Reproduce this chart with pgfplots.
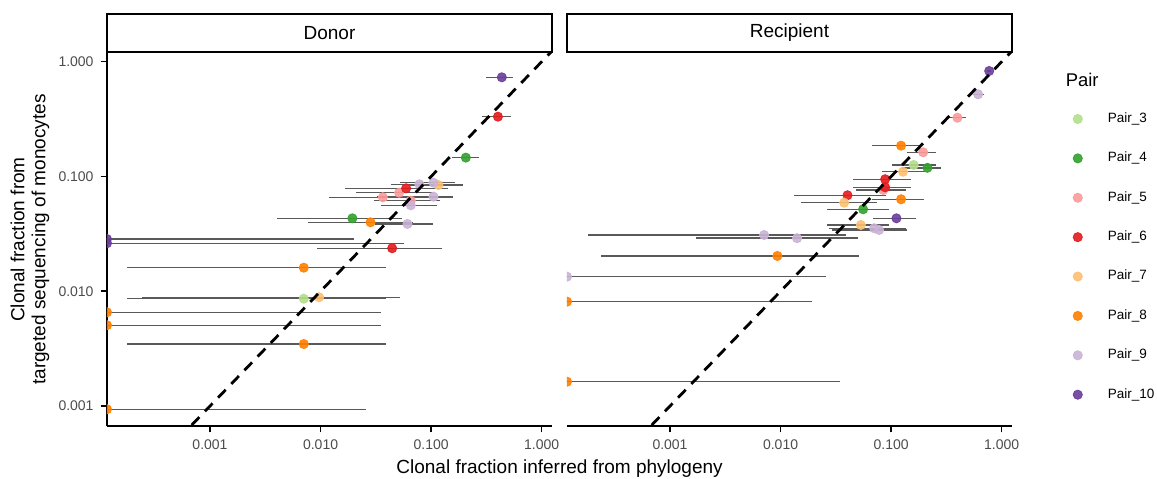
\documentclass[border=0pt]{standalone}
\usepackage{fontspec}
\setmainfont{Liberation Sans}
\usepackage{pgfplots}
\pgfplotsset{compat=1.18}

\definecolor{p3}{HTML}{B2DF8A}
\definecolor{p4}{HTML}{33A02C}
\definecolor{p5}{HTML}{FB9A99}
\definecolor{p6}{HTML}{E31A1C}
\definecolor{p7}{HTML}{FDBF6F}
\definecolor{p8}{HTML}{FF7F00}
\definecolor{p9}{HTML}{CAB2D6}
\definecolor{p10}{HTML}{6A3D9A}

\pgfplotsset{
  ebar/.style={forget plot, draw=black!65, line width=0.7pt},
  pdot/.style={only marks, mark=*, color=#1, mark size=2.3pt,
    mark options={fill=#1, draw=#1, fill opacity=0.9, draw opacity=0.9}},
  dline/.style={forget plot, black, line width=1.4pt, dash pattern=on 5.5pt off 4pt},
}
\tikzset{stripbox/.style={draw, line width=1pt, minimum width=222.5pt, minimum height=19pt,
    anchor=south, inner sep=0pt, font=\fontsize{9.5}{11}\selectfont}}

\begin{document}
\begin{tikzpicture}
\useasboundingbox (-53.5pt,-26pt) rectangle (525pt,213pt);
% Donor
\begin{axis}[
  scale only axis, width=222.5pt, height=186.5pt,
  xmode=log, ymode=log,
  xmin=1.17e-4, xmax=1.24, ymin=6.7e-4, ymax=1.19,
  xtick={0.001,0.01,0.1,1}, xticklabels={0.001,0.010,0.100,1.000},
  ytick={0.001,0.01,0.1,1}, yticklabels={0.001,0.010,0.100,1.000},
  xminorticks=false, yminorticks=false,
  axis x line*=bottom, axis y line*=left,
  axis line style={-, line width=1.1pt},
  tick align=outside, major tick length=3.2pt,
  tick style={line width=0.8pt, black},
  tick label style={font=\fontsize{7}{8}\selectfont, text=black!70},
  clip mode=individual, clip marker paths=true,
  unbounded coords=jump,
]
\addplot[ebar] coordinates {
  (0.315,0.731) (0.552,0.731) (nan,nan)
  (0.288,0.332) (0.526,0.332) (nan,nan)
  (0.154,0.146) (0.273,0.146) (nan,nan)
  (0.0167,0.0789) (0.1426,0.0789) (nan,nan)
  (0.0209,0.0722) (0.1043,0.0722) (nan,nan)
  (0.0119,0.0659) (0.158,0.0659) (nan,nan)
  (0.0435,0.0855) (0.158,0.0855) (nan,nan)
  (0.0646,0.0843) (0.194,0.0843) (nan,nan)
  (0.0524,0.0883) (0.165,0.0883) (nan,nan)
  (0.0323,0.0667) (0.158,0.0667) (nan,nan)
  (0.0305,0.0615) (0.1205,0.0615) (nan,nan)
  (0.0352,0.0561) (0.1127,0.0561) (nan,nan)
  (0.00402,0.0432) (0.0543,0.0432) (nan,nan)
  (0.00776,0.0399) (0.0692,0.0399) (nan,nan)
  (0.0313,0.0386) (0.1047,0.0386) (nan,nan)
  (0.00935,0.0237) (0.125,0.0237) (nan,nan)
  (0.0001,0.0285) (0.0201,0.0285) (nan,nan)
  (0.0001,0.0262) (0.057,0.0262) (nan,nan)
  (0.000179,0.01605) (0.0389,0.01605) (nan,nan)
  (0.000179,0.00862) (0.0389,0.00862) (nan,nan)
  (0.000244,0.00887) (0.0524,0.00887) (nan,nan)
  (0.0001,0.00656) (0.0351,0.00656) (nan,nan)
  (0.0001,0.00506) (0.0351,0.00506) (nan,nan)
  (0.000179,0.00347) (0.0389,0.00347) (nan,nan)
  (0.0001,0.000938) (0.0257,0.000938)
};
\addplot[pdot=p3] coordinates {(0.00705,0.00862)};
\addplot[pdot=p4] coordinates {(0.206,0.146) (0.0194,0.0432)};
\addplot[pdot=p5] coordinates {(0.0513,0.0722) (0.0366,0.0659) (0.0655,0.0615)};
\addplot[pdot=p6] coordinates {(0.402,0.332) (0.0594,0.0789) (0.0444,0.0237)};
\addplot[pdot=p7] coordinates {(0.1164,0.0843) (0.00969,0.00887)};
\addplot[pdot=p8] coordinates {(0.0283,0.0399) (0.00705,0.01605) (1.17e-4,0.00656)
  (1.17e-4,0.00506) (0.00705,0.00347) (1.17e-4,0.000938)};
\addplot[pdot=p9] coordinates {(0.0783,0.0855) (0.105,0.0883) (0.105,0.0667)
  (0.0655,0.0561) (0.0611,0.0386)};
\addplot[pdot=p10] coordinates {(0.436,0.731) (1.17e-4,0.0285) (1.17e-4,0.0262)};
\addplot[dline] coordinates {(0.0001,0.0001) (10,10)};
\node[stripbox] at (rel axis cs:0.5,1) {Donor};
\node[rotate=90, align=center, font=\fontsize{9.5}{10.5}\selectfont]
  at (rel axis cs:-0.173,0.5) {Clonal fraction from\\targeted sequencing of monocytes};
\node[font=\fontsize{9.5}{11}\selectfont] at (rel axis cs:1.017,-0.115)
  {Clonal fraction inferred from phylogeny};
\end{axis}

% Recipient
\begin{axis}[at={(230pt,0)},
  scale only axis, width=222.5pt, height=186.5pt,
  xmode=log, ymode=log,
  xmin=1.17e-4, xmax=1.24, ymin=6.7e-4, ymax=1.19,
  xtick={0.001,0.01,0.1,1}, xticklabels={0.001,0.010,0.100,1.000},
  ytick=\empty, xminorticks=false, yminorticks=false,
  axis x line*=bottom, axis y line=none,
  axis line style={-, line width=1.1pt},
  tick align=outside, major tick length=3.2pt,
  tick style={line width=0.8pt, black},
  tick label style={font=\fontsize{7}{8}\selectfont, text=black!70},
  clip mode=individual, clip marker paths=true,
  unbounded coords=jump,
  legend style={at={(rel axis cs:1.1365,0.852)}, anchor=north west, draw=none,
    fill=none, inner sep=0pt, row sep=9.3pt,
    font=\fontsize{6.75}{8}\selectfont,
    /tikz/every odd column/.append style={column sep=10.7pt}},
  legend cell align=left,
  legend image code/.code={\draw[#1] plot coordinates {(0pt,0pt)};},
]
\addplot[ebar] coordinates {
  (0.74,0.830) (0.80,0.830) (nan,nan)
  (0.552,0.520) (0.695,0.520) (nan,nan)
  (0.330,0.325) (0.480,0.325) (nan,nan)
  (0.0668,0.1855) (0.192,0.1855) (nan,nan)
  (0.1406,0.1625) (0.257,0.1625) (nan,nan)
  (0.1028,0.126) (0.254,0.126) (nan,nan)
  (0.1265,0.119) (0.282,0.119) (nan,nan)
  (0.0834,0.110) (0.206,0.110) (nan,nan)
  (0.0453,0.0946) (0.151,0.0946) (nan,nan)
  (0.0453,0.0805) (0.151,0.0805) (nan,nan)
  (0.0485,0.0763) (0.136,0.0763) (nan,nan)
  (0.01324,0.0686) (0.0895,0.0686) (nan,nan)
  (0.01524,0.0591) (0.0752,0.0591) (nan,nan)
  (0.0678,0.0633) (0.199,0.0633) (nan,nan)
  (0.0265,0.0518) (0.096,0.0518) (nan,nan)
  (0.0692,0.0432) (0.1694,0.0432) (nan,nan)
  (0.0262,0.0378) (0.096,0.0378) (nan,nan)
  (0.0275,0.0354) (0.136,0.0354) (nan,nan)
  (0.0292,0.0342) (0.140,0.0342) (nan,nan)
  (0.000182,0.0309) (0.0389,0.0309) (nan,nan)
  (0.00173,0.0290) (0.0502,0.0290) (nan,nan)
  (0.000239,0.0203) (0.0513,0.0203) (nan,nan)
  (0.0001,0.0134) (0.0257,0.0134) (nan,nan)
  (0.0001,0.00812) (0.0194,0.00812) (nan,nan)
  (0.0001,0.00163) (0.0343,0.00163)
};
\addplot[pdot=p3] coordinates {(0.160,0.126)};
\addlegendentry{Pair\_3}
\addplot[pdot=p4] coordinates {(0.213,0.119) (0.0558,0.0518)};
\addlegendentry{Pair\_4}
\addplot[pdot=p5] coordinates {(0.398,0.325) (0.195,0.1625) (0.085,0.0763)};
\addlegendentry{Pair\_5}
\addplot[pdot=p6] coordinates {(0.0883,0.0946) (0.0883,0.0805) (0.0403,0.0686)};
\addlegendentry{Pair\_6}
\addplot[pdot=p7] coordinates {(0.128,0.110) (0.0376,0.0591) (0.0532,0.0378)};
\addlegendentry{Pair\_7}
\addplot[pdot=p8] coordinates {(0.123,0.1855) (0.123,0.0633) (0.00935,0.0203)
  (1.17e-4,0.00812) (1.17e-4,0.00163)};
\addlegendentry{Pair\_8}
\addplot[pdot=p9] coordinates {(0.612,0.520) (0.0702,0.0354) (0.0778,0.0342)
  (0.0071,0.0309) (0.0141,0.0290) (1.17e-4,0.0134)};
\addlegendentry{Pair\_9}
\addplot[pdot=p10] coordinates {(0.771,0.830) (0.1117,0.0432)};
\addlegendentry{Pair\_10}
\addplot[dline] coordinates {(0.0001,0.0001) (10,10)};
\node[stripbox] at (rel axis cs:0.5,1) {Recipient};
\node[anchor=west, font=\fontsize{9.2}{11}\selectfont] at (rel axis cs:1.105,0.928) {Pair};
\end{axis}
\end{tikzpicture}
\end{document}
